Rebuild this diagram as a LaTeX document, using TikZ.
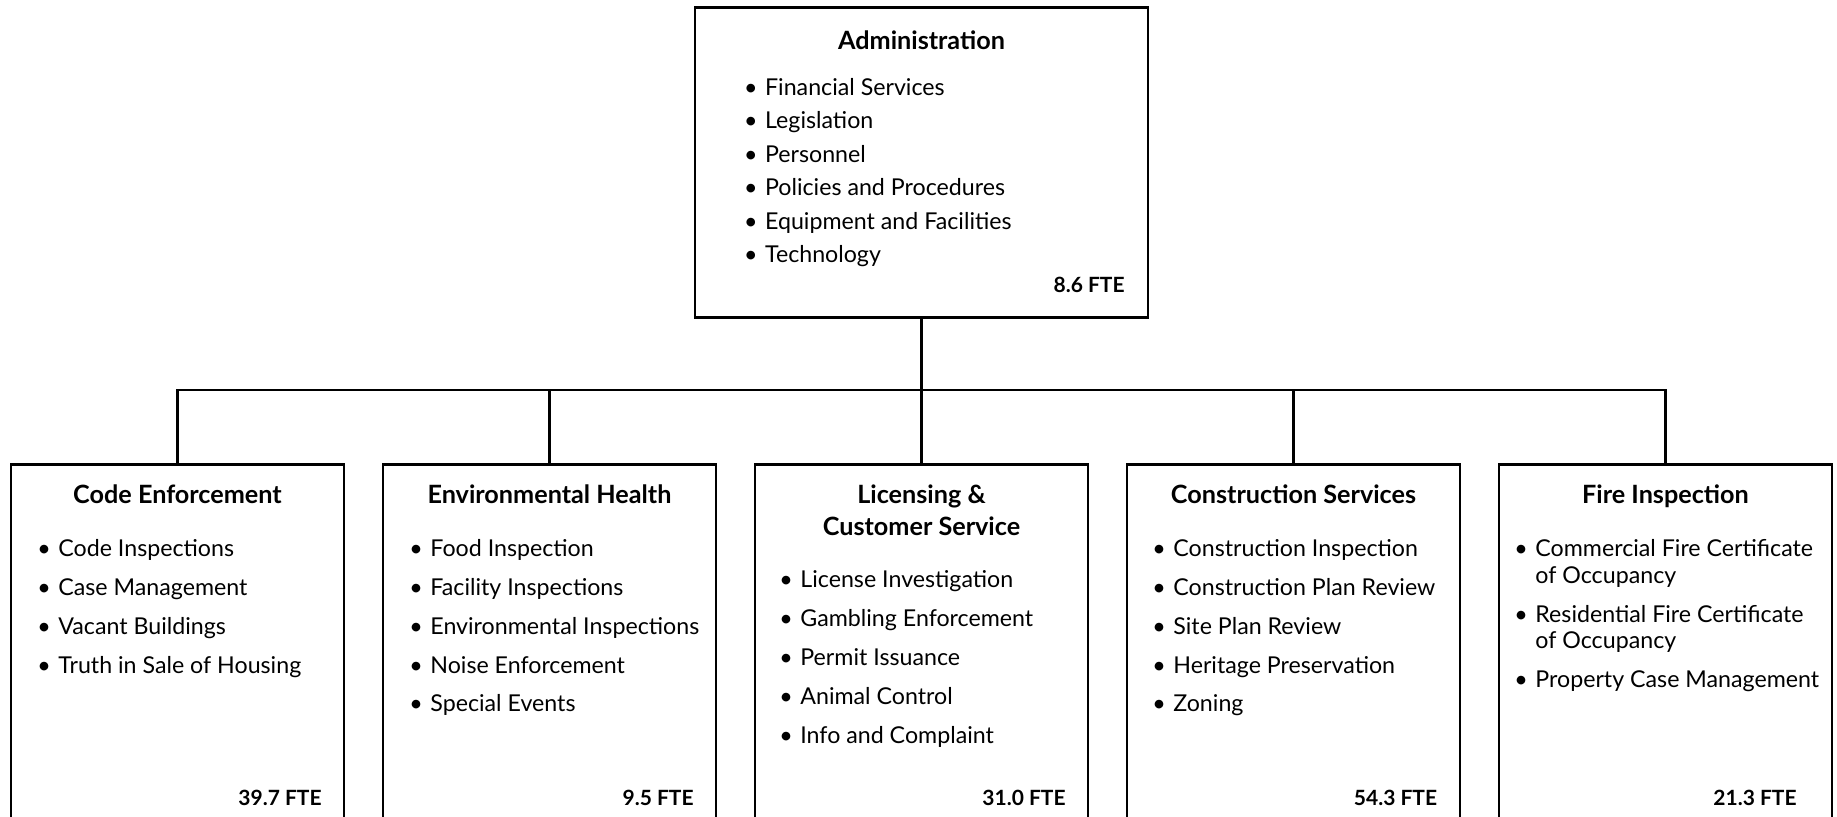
\documentclass[tikz,border=0pt]{standalone}
\usepackage{fontspec}
\setmainfont{Lato}
\usetikzlibrary{positioning}

\newcommand{\bul}{\makebox[10.5pt][l]{\textbullet}}
\newcommand{\hang}{\hspace*{10.5pt}}

\begin{document}
\begin{tikzpicture}[x=0.5pt,y=-0.5pt,
  unit/.style={draw,line width=1.35pt,minimum width=166.5pt,minimum height=220pt,anchor=north,inner sep=0pt},
  head/.style={font=\fontsize{12.6}{16}\selectfont\bfseries,align=center,anchor=base,inner sep=0pt},
  tasks/.style={font=\fontsize{11.6}{13.25}\selectfont,align=left,anchor=base west,inner sep=0pt},
  fte/.style={font=\fontsize{10.5}{12}\selectfont\bfseries,anchor=base east,inner sep=0pt},
  link/.style={line width=1.2pt}]

  \useasboundingbox (0,0) rectangle (1837,817);
  \clip (0,0) rectangle (1837,817);

  % administration (text nodes sit on the baseline of their last line)
  \node[unit,minimum width=226.5pt,minimum height=155pt] (admin) at (921.5,6) {};
  \node[head] (admin-title) at (921.5,49.3) {Administration};
  \node[tasks,font=\fontsize{11.6}{16.75}\selectfont] (admin-list) at (743.7,262.7)
    {\bul Financial Services\\\bul Legislation\\\bul Personnel\\
     \bul Policies and Procedures\\\bul Equipment and Facilities\\\bul Technology};
  \node[fte] (admin-fte) at (1125,292.7) {8.6 FTE};

  % divisions
  \node[unit] (code) at (177.5,463) {};
  \node[unit] (env) at (549.5,463) {};
  \node[unit] (lic) at (921.5,463) {};
  \node[unit] (cons) at (1293.5,463) {};
  \node[unit] (fire) at (1665.5,463) {};

  % code enforcement
  \node[head] (code-title) at (177.5,504) {Code Enforcement};
  \node[tasks] (code-list) at (37,673.1)
    {\bul Code Inspections\\[6.15pt]\bul Case Management\\[6.15pt]
     \bul Vacant Buildings\\[6.15pt]\bul Truth in Sale of Housing};
  \node[fte] (code-fte) at (322,805) {39.7 FTE};

  % environmental health
  \node[head] (env-title) at (549.5,504) {Environmental Health};
  \node[tasks] (env-list) at (409,711.9)
    {\bul Food Inspection\\[6.15pt]\bul Facility Inspections\\[6.15pt]
     \bul Environmental Inspections\\[6.15pt]\bul Noise Enforcement\\[6.15pt]
     \bul Special Events};
  \node[fte] (env-fte) at (694,805) {9.5 FTE};

  % licensing
  \node[head] (lic-title) at (921.5,536) {Licensing \&\\Customer Service};
  \node[tasks] (lic-list) at (779,743.2)
    {\bul License Investigation\\[6.15pt]\bul Gambling Enforcement\\[6.15pt]
     \bul Permit Issuance\\[6.15pt]\bul Animal Control\\[6.15pt]
     \bul Info and Complaint};
  \node[fte] (lic-fte) at (1066,805) {31.0 FTE};

  % construction
  \node[head] (cons-title) at (1293.5,504) {Construction Services};
  \node[tasks] (cons-list) at (1152,711.9)
    {\bul Construction Inspection\\[6.15pt]\bul Construction Plan Review\\[6.15pt]
     \bul Site Plan Review\\[6.15pt]\bul Heritage Preservation\\[6.15pt]
     \bul Zoning};
  \node[fte] (cons-fte) at (1437.5,805) {54.3 FTE};

  % fire inspection
  \node[head] (fire-title) at (1665.5,504) {Fire Inspection};
  \node[tasks] (fire-list) at (1514,687.3)
    {\bul Commercial Fire Certificate\\\hang of Occupancy\\[6.15pt]
     \bul Residential Fire Certificate\\\hang of Occupancy\\[6.15pt]
     \bul Property Case Management};
  \node[fte] (fire-fte) at (1797,805) {21.3 FTE};

  % connectors
  \coordinate (bus) at (921.5,390);
  \draw[link] (admin.south) -- (bus);
  \draw[link] (code.north) |- (bus) -| (fire.north);
  \foreach \b in {env,lic,cons}
    \draw[link] (\b.north) -- (\b.north |- bus);

\end{tikzpicture}
\end{document}
